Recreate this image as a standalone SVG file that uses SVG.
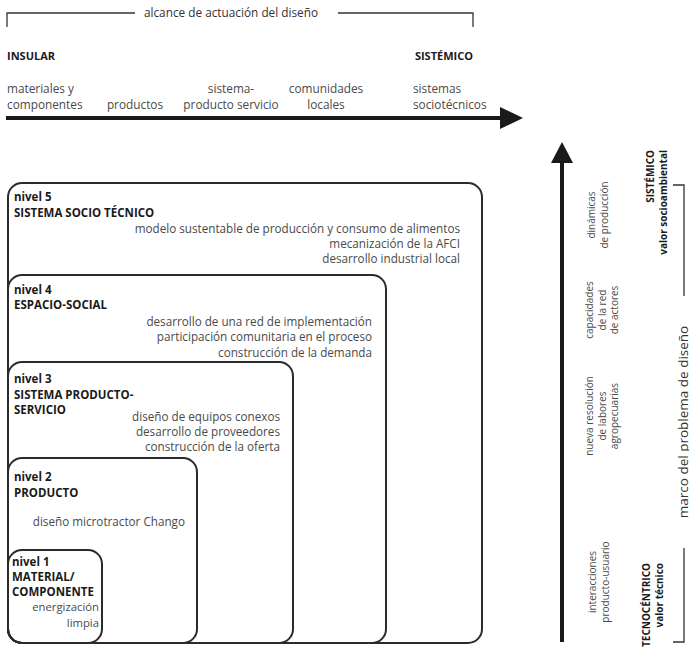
<svg xmlns="http://www.w3.org/2000/svg" width="689" height="648" viewBox="0 0 689 648">
<style>
  text { font-family: "Open Sans", "Noto Sans", "DejaVu Sans", sans-serif; }
  .lbl { font-size: 11.8px; fill: #4a4a4a; }
  .hd { font-size: 11.5px; font-weight: bold; fill: #1a1a1a; }
  .desc { font-size: 11.7px; fill: #4a4a4a; text-anchor: end; }
  .vl { font-size: 10px; fill: #4a4a4a; text-anchor: middle; }
  .vb { font-size: 10px; font-weight: bold; fill: #1a1a1a; text-anchor: end; }
  .box { fill: none; stroke: #2b2b2b; stroke-width: 2; }
  .brk { fill: none; stroke: #333; stroke-width: 1.3; }
  .axis { stroke: #1a1a1a; stroke-width: 4; fill: none; }
  .head { fill: #1a1a1a; }
</style>
<rect width="689" height="648" fill="#fff"/>

<g id="connectors">
  <polyline class="brk" points="7,27 7,13 135,13"/>
  <polyline class="brk" points="338,13 473,13 473,27"/>
  <line class="axis" x1="6" y1="118" x2="503" y2="118"/>
  <polygon class="head" points="500,107 523,118 500,129"/>
  <line class="axis" x1="562" y1="642" x2="562" y2="160"/>
  <polygon class="head" points="551,163 562,142 573,163"/>
  <polyline class="brk" points="673,185 684,185 684,296"/>
  <polyline class="brk" points="684,548 684,642 673,642"/>
</g>

<g id="scope-title">
  <text x="231" y="17" style="font-size:11.8px;fill:#333;text-anchor:middle">alcance de actuación del diseño</text>
</g>

<g id="axis-x-labels">
  <text class="hd" x="7" y="60" style="font-size:11px">INSULAR</text>
  <text class="hd" x="473" y="60" style="font-size:11px;text-anchor:end">SISTÉMICO</text>
  <text class="lbl" x="7" y="93">materiales y</text>
  <text class="lbl" x="7" y="109">componentes</text>
  <text class="lbl" x="135" y="109" text-anchor="middle">productos</text>
  <text class="lbl" x="231" y="93" text-anchor="middle">sistema-</text>
  <text class="lbl" x="231" y="109" text-anchor="middle">producto servicio</text>
  <text class="lbl" x="326" y="93" text-anchor="middle">comunidades</text>
  <text class="lbl" x="326" y="109" text-anchor="middle">locales</text>
  <text class="lbl" x="413" y="93">sistemas</text>
  <text class="lbl" x="413" y="109">sociotécnicos</text>
</g>

<g id="nivel5">
  <rect class="box" x="8" y="183" width="474" height="460" rx="14"/>
  <text class="hd" x="14" y="201">nivel 5</text>
  <text class="hd" x="14" y="217">SISTEMA SOCIO TÉCNICO</text>
  <text class="desc" x="460" y="233">modelo sustentable de producción y consumo de alimentos</text>
  <text class="desc" x="460" y="248">mecanización de la AFCI</text>
  <text class="desc" x="460" y="263">desarrollo industrial local</text>
</g>

<g id="nivel4">
  <rect class="box" x="8" y="275" width="378" height="368" rx="14"/>
  <text class="hd" x="14" y="294">nivel 4</text>
  <text class="hd" x="14" y="309">ESPACIO-SOCIAL</text>
  <text class="desc" x="372" y="326">desarrollo de una red de implementación</text>
  <text class="desc" x="372" y="341">participación comunitaria en el proceso</text>
  <text class="desc" x="372" y="357">construcción de la demanda</text>
</g>

<g id="nivel3">
  <rect class="box" x="8" y="362" width="285" height="281" rx="14"/>
  <text class="hd" x="14" y="383">nivel 3</text>
  <text class="hd" x="14" y="399">SISTEMA PRODUCTO-</text>
  <text class="hd" x="14" y="414">SERVICIO</text>
  <text class="desc" x="280" y="421">diseño de equipos conexos</text>
  <text class="desc" x="280" y="436">desarrollo de proveedores</text>
  <text class="desc" x="280" y="451">construcción de la oferta</text>
</g>

<g id="nivel2">
  <rect class="box" x="8" y="458" width="189" height="185" rx="14"/>
  <text class="hd" x="14" y="481">nivel 2</text>
  <text class="hd" x="14" y="497">PRODUCTO</text>
  <text class="desc" x="185" y="526">diseño microtractor Chango</text>
</g>

<g id="nivel1">
  <rect class="box" x="8" y="550" width="94" height="93" rx="14"/>
  <text class="hd" x="12" y="566">nivel 1</text>
  <text class="hd" x="12" y="581">MATERIAL/</text>
  <text class="hd" x="12" y="596">COMPONENTE</text>
  <text class="desc" x="99" y="611" style="font-size:11.3px">energización</text>
  <text class="desc" x="99" y="627" style="font-size:11.3px">limpia</text>
</g>

<g id="axis-y-labels">
  <text class="vl" transform="translate(595,215) rotate(-90)"><tspan x="0" y="0">dinámicas</tspan><tspan x="0" y="12.5">de producción</tspan></text>
  <text class="vl" transform="translate(593,310) rotate(-90)"><tspan x="0" y="0">capacidades</tspan><tspan x="0" y="12.5">de la red</tspan><tspan x="0" y="25">de actores</tspan></text>
  <text class="vl" transform="translate(593,416) rotate(-90)"><tspan x="0" y="0">nueva resolución</tspan><tspan x="0" y="12.5">de labores</tspan><tspan x="0" y="25">agropecuarias</tspan></text>
  <text class="vl" transform="translate(596,582) rotate(-90)"><tspan x="0" y="0">interacciones</tspan><tspan x="0" y="12.5">producto-usuario</tspan></text>
</g>

<g id="sistemico">
  <text class="vb" transform="translate(654,150) rotate(-90)"><tspan x="0" y="0">SISTÉMICO</tspan><tspan x="0" y="13">valor socioambiental</tspan></text>
</g>

<g id="tecnocentrico">
  <text class="vb" transform="translate(650,563) rotate(-90)"><tspan x="0" y="0">TECNOCÉNTRICO</tspan><tspan x="0" y="13">valor técnico</tspan></text>
</g>

<g id="marco">
  <text transform="translate(688,422) rotate(-90)" style="font-size:13.5px;fill:#333;text-anchor:middle">marco del problema de diseño</text>
</g>
</svg>
